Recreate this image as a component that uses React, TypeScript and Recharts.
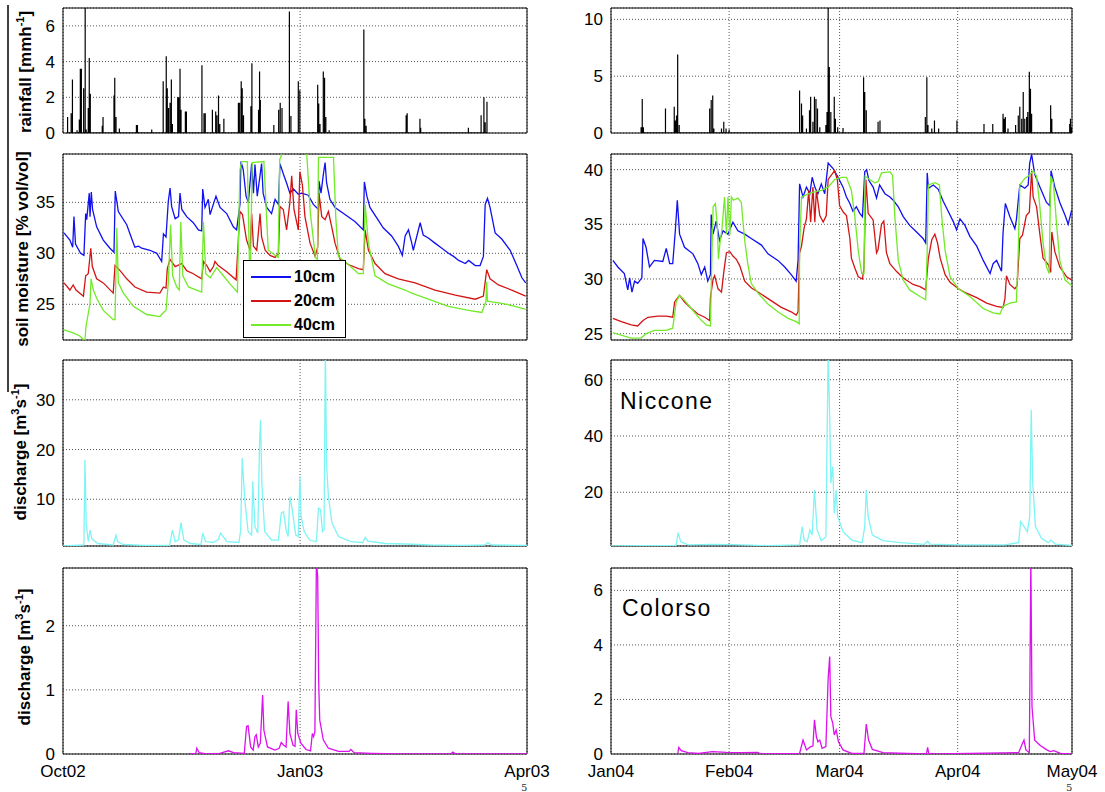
import React from "react";
import {
  CartesianGrid,
  Legend,
  Line,
  LineChart,
  ReferenceArea,
  XAxis,
  YAxis,
} from "recharts";

type Pt = [number, number];

// x is days since the start of each column (Oct02 left, Jan04 right)
const leftTicks = [0, 93, 182];
const leftTickLabels = ["Oct02", "Jan03", "Apr03"];
const rightTicks = [0, 31, 60, 91, 121];
const rightTickLabels = ["Jan04", "Feb04", "Mar04", "Apr04", "May04"];

const rainL: Pt[] = [
  [1.8, 0.9], [3.2, 1.1], [3.7, 3.0], [5.5, 0.15], [6.4, 0.75], [6.8, 3.6], [7.2, 3.6], [8.1, 2.5],
  [8.7, 7.5], [9.1, 0.2], [9.9, 1.4], [10.3, 4.2], [10.7, 2.2], [15.4, 0.4], [15.7, 0.9], [20.0, 2.1],
  [20.3, 3.1], [20.8, 0.9], [22.1, 0.25], [28.8, 0.45], [29.2, 0.45], [34.8, 0.2], [39.3, 2.9],
  [40.5, 4.3], [40.9, 2.5], [41.4, 1.4], [42.0, 1.7], [42.5, 3.0], [42.9, 0.5], [45.0, 2.0], [45.4, 2.0],
  [45.9, 3.6], [46.3, 1.3], [48.0, 1.2], [48.4, 1.2], [54.5, 3.8], [55.3, 1.1], [55.8, 1.1], [58.6, 1.3],
  [59.9, 1.2], [60.4, 1.0], [61.0, 2.1], [61.5, 0.5], [63.1, 0.8], [68.8, 1.7], [69.3, 1.7], [69.9, 2.9],
  [70.3, 2.5], [70.8, 1.0], [73.7, 1.5], [74.1, 3.9], [76.7, 1.3], [77.1, 3.45], [77.4, 1.85],
  [82.7, 0.45], [84.6, 1.3], [85.2, 1.7], [85.9, 1.4], [88.8, 6.8], [89.4, 0.95], [92.3, 2.9],
  [92.9, 2.4], [98.2, 0.05], [99.9, 2.7], [100.3, 1.65], [100.8, 0.5], [102.1, 3.45], [102.6, 3.1],
  [103.1, 0.9], [104.4, 0.15], [118.0, 5.8], [118.4, 0.8], [118.9, 0.4], [134.6, 1.0], [135.0, 1.1],
  [140.0, 0.8], [140.3, 0.3], [159.0, 0.3], [164.0, 1.0], [165.1, 2.0], [165.6, 0.6], [166.3, 1.75],
];

const rainR: Pt[] = [
  [7.9, 0.5], [8.2, 3.0], [8.5, 0.5], [14.3, 2.15], [16.6, 2.3], [16.9, 1.1], [17.2, 1.55], [17.5, 6.9],
  [17.9, 0.7], [25.9, 2.15], [26.3, 2.9], [26.7, 3.3], [27.0, 0.4], [29.0, 0.4], [29.6, 1.0], [30.2, 0.4],
  [31.0, 0.3], [49.5, 3.75], [50.0, 2.6], [50.3, 1.55], [51.3, 0.4], [52.1, 2.0], [52.4, 3.2], [53.0, 1.0],
  [53.4, 3.2], [53.8, 3.0], [54.2, 2.15], [54.8, 0.5], [56.4, 0.7], [56.7, 1.85], [57.0, 11.5],
  [57.3, 5.8], [57.7, 1.85], [58.6, 3.2], [58.9, 1.25], [59.5, 0.5], [60.9, 0.45], [66.3, 4.9],
  [66.6, 3.6], [67.0, 2.0], [70.1, 1.0], [70.6, 1.1], [82.5, 1.4], [82.9, 4.9], [83.2, 0.7], [84.2, 0.4],
  [84.9, 1.1], [86.0, 0.4], [90.8, 1.1], [97.9, 0.8], [100.2, 0.8], [102.9, 1.7], [103.2, 1.25],
  [103.5, 1.4], [104.2, 0.4], [106.2, 0.7], [106.9, 1.55], [107.3, 2.3], [107.8, 1.25], [108.2, 3.6],
  [108.6, 1.25], [109.1, 1.4], [109.4, 1.85], [109.8, 5.4], [110.1, 3.9], [110.4, 1.7], [115.4, 2.45],
  [115.7, 1.25], [120.4, 0.8], [120.6, 1.25], [120.9, 0.5],
];

const soilL10: Pt[] = [
  [0.4, 32.0], [2.7, 31.3], [3.8, 30.6], [4.3, 33.6], [4.9, 30.9], [6.9, 30.0], [8.2, 29.8], [8.9, 33.9],
  [9.3, 33.3], [10.3, 35.9], [10.6, 33.6], [11.1, 36.0], [11.6, 34.3], [13.2, 32.6], [15.8, 31.3],
  [18.4, 30.5], [20.0, 30.1], [20.5, 36.1], [21.7, 34.1], [25.0, 32.8], [27.0, 31.4], [28.2, 30.6],
  [29.6, 30.7], [30.9, 30.5], [34.1, 30.3], [36.8, 30.0], [38.7, 29.2], [39.4, 31.9], [40.4, 31.6],
  [41.3, 35.1], [42.0, 36.4], [42.6, 34.6], [44.0, 33.4], [45.3, 33.6], [45.9, 35.9], [46.6, 34.3],
  [48.5, 33.6], [51.1, 33.0], [53.1, 32.3], [54.4, 32.2], [54.8, 36.3], [55.7, 34.5], [57.0, 35.3],
  [57.7, 33.8], [59.2, 35.0], [60.0, 35.6], [61.6, 34.5], [64.2, 33.9], [66.8, 32.6], [68.1, 32.3],
  [69.4, 34.8], [69.8, 39.0], [70.7, 38.2], [71.8, 35.6], [72.7, 35.0], [74.0, 38.8], [74.7, 35.9],
  [75.3, 38.7], [76.2, 35.6], [77.9, 38.8], [78.5, 35.9], [79.9, 34.5], [81.8, 33.9], [83.2, 35.3],
  [84.5, 34.8], [85.1, 38.8], [86.4, 37.8], [87.7, 36.9], [89.0, 35.9], [90.4, 36.3], [92.3, 35.8],
  [93.6, 35.9], [96.2, 35.7], [98.2, 34.8], [100.2, 34.3], [100.4, 37.1], [101.2, 35.9], [102.1, 37.7],
  [102.8, 38.9], [103.4, 36.9], [104.7, 35.3], [106.7, 34.5], [110.6, 33.8], [114.6, 33.1],
  [117.8, 32.3], [118.2, 37.0], [119.2, 35.6], [120.4, 34.5], [123.0, 33.5], [125.6, 32.5],
  [128.9, 31.7], [131.5, 30.7], [133.1, 29.8], [134.2, 31.7], [135.5, 32.3], [136.8, 31.0],
  [137.4, 30.3], [138.8, 31.7], [140.1, 33.0], [141.3, 31.8], [143.3, 31.5], [145.9, 31.0],
  [148.6, 30.5], [151.2, 30.0], [153.2, 29.7], [155.2, 29.3], [157.8, 29.0], [159.1, 29.3],
  [161.7, 28.8], [163.6, 28.8], [164.9, 29.7], [165.6, 34.8], [166.5, 35.4], [167.5, 34.5],
  [169.5, 32.0], [172.1, 31.4], [175.4, 30.3], [178.0, 28.8], [180.0, 27.6], [181.5, 27.1],
];

const soilL20: Pt[] = [
  [0.4, 27.1], [2.7, 26.4], [4.0, 26.9], [5.1, 26.4], [8.0, 25.8], [8.9, 27.8], [9.9, 28.0], [10.9, 30.5],
  [11.5, 28.7], [13.2, 27.5], [15.8, 27.1], [19.7, 26.1], [20.4, 28.8], [22.4, 28.3], [25.0, 27.5],
  [28.2, 26.7], [32.8, 26.2], [38.0, 26.1], [39.4, 26.7], [40.4, 26.6], [40.9, 28.5], [42.0, 29.4],
  [44.0, 28.7], [46.6, 29.0], [48.5, 28.3], [51.1, 28.0], [54.4, 27.5], [55.1, 29.2], [56.4, 28.8],
  [57.7, 28.2], [59.0, 28.7], [59.6, 29.2], [60.9, 28.8], [64.2, 28.2], [67.9, 27.4], [69.4, 34.1],
  [70.4, 33.8], [72.0, 31.3], [73.4, 30.3], [74.0, 33.9], [74.7, 30.7], [76.0, 30.3], [77.3, 33.9],
  [77.9, 31.6], [79.3, 30.3], [81.2, 29.8], [83.2, 29.6], [84.5, 30.0], [85.1, 34.6], [86.4, 34.3],
  [87.7, 32.3], [89.0, 35.0], [89.7, 37.6], [90.6, 34.3], [92.3, 32.3], [92.9, 38.0], [93.9, 36.7],
  [94.9, 33.6], [96.9, 31.0], [98.9, 29.7], [99.9, 30.6], [100.4, 35.9], [101.5, 33.6], [102.8, 33.3],
  [104.1, 34.1], [105.4, 32.6], [106.7, 31.0], [108.7, 29.4], [111.9, 28.9], [115.9, 28.5],
  [117.8, 28.4], [118.5, 32.3], [119.8, 30.3], [122.4, 29.0], [126.3, 28.0], [131.5, 27.5],
  [138.1, 27.1], [145.9, 26.4], [153.9, 25.9], [161.7, 25.5], [164.9, 25.8], [166.2, 28.4],
  [167.5, 27.5], [170.8, 26.9], [176.0, 26.4], [181.5, 25.8],
];

const soilL40: Pt[] = [
  [0.4, 22.5], [4.0, 22.2], [6.6, 21.9], [8.6, 21.4], [9.0, 22.8], [10.6, 25.1], [11.0, 27.5], [11.9, 26.4],
  [13.2, 25.6], [15.8, 24.4], [19.7, 23.5], [20.4, 23.5], [21.1, 32.5], [21.7, 27.1], [23.7, 26.1],
  [27.6, 24.8], [32.8, 24.0], [38.0, 23.8], [39.4, 24.2], [40.4, 24.4], [41.3, 27.1], [42.2, 32.8],
  [43.0, 27.8], [44.6, 26.7], [45.6, 26.4], [46.2, 33.1], [47.0, 27.8], [49.2, 26.7], [52.4, 26.4],
  [54.4, 26.2], [55.1, 33.1], [56.0, 28.0], [57.7, 27.6], [60.3, 28.6], [62.9, 27.8], [65.5, 27.0],
  [68.4, 26.2], [69.4, 38.2], [70.1, 39.0], [72.3, 39.0], [73.1, 29.4], [73.6, 29.4], [74.2, 38.9],
  [78.8, 39.0], [80.5, 30.3], [84.4, 29.6], [85.0, 39.2], [86.0, 39.8], [95.6, 39.8], [97.0, 34.0],
  [99.0, 29.6], [99.8, 29.4], [100.2, 39.4], [106.1, 39.4], [107.0, 33.5], [108.0, 29.7], [111.9, 28.9],
  [115.9, 28.0], [117.8, 28.0], [118.5, 34.8], [119.8, 31.0], [122.4, 27.8], [127.6, 27.0],
  [134.2, 26.4], [136.8, 26.1], [143.3, 25.5], [151.2, 24.8], [159.1, 24.4], [164.3, 24.2],
  [165.9, 25.3], [166.2, 27.2], [166.5, 25.3], [172.1, 25.1], [177.3, 24.8], [181.5, 24.5],
];

const soilR10: Pt[] = [
  [0.5, 31.7], [1.8, 31.1], [3.5, 30.5], [4.4, 29.0], [4.9, 30.1], [5.5, 28.8], [6.2, 29.8], [7.0, 29.6],
  [8.1, 30.1], [8.4, 33.7], [9.2, 32.9], [10.1, 31.1], [11.4, 31.7], [13.6, 31.6], [14.5, 32.8],
  [15.4, 31.4], [16.2, 31.4], [16.9, 34.5], [17.4, 37.2], [18.0, 34.1], [19.3, 32.9], [21.5, 32.3],
  [22.8, 31.4], [23.7, 30.4], [24.6, 31.1], [25.4, 29.8], [26.1, 30.4], [26.3, 35.9], [26.8, 34.1],
  [27.6, 35.3], [28.5, 33.5], [29.4, 34.4], [30.7, 34.1], [32.0, 35.2], [33.3, 34.4], [35.1, 34.1],
  [36.8, 33.7], [39.5, 33.1], [41.2, 32.3], [43.8, 31.7], [45.6, 31.1], [47.3, 30.4], [48.6, 29.8],
  [49.1, 31.7], [49.5, 38.7], [50.4, 37.5], [51.3, 38.4], [52.2, 37.8], [52.8, 39.3], [53.5, 38.4],
  [54.3, 37.8], [55.2, 38.7], [56.1, 37.8], [57.0, 40.6], [58.3, 40.1], [59.6, 39.3], [60.9, 38.4],
  [61.8, 37.5], [62.7, 36.9], [63.5, 36.2], [64.4, 36.6], [65.3, 36.0], [66.0, 35.7], [66.6, 39.8],
  [67.1, 40.0], [67.7, 39.0], [68.8, 38.4], [69.7, 37.4], [70.5, 38.6], [71.9, 37.8], [73.2, 37.5],
  [74.1, 37.2], [75.4, 36.6], [76.7, 35.7], [78.4, 34.9], [80.2, 34.3], [81.9, 33.7], [82.6, 33.3],
  [83.0, 39.7], [83.3, 38.3], [84.6, 38.6], [85.9, 38.2], [87.2, 37.1], [88.5, 36.2], [89.9, 35.2],
  [90.7, 34.5], [91.6, 35.5], [92.9, 34.9], [94.2, 33.9], [96.0, 33.0], [97.7, 31.7], [99.5, 30.5],
  [100.3, 31.4], [101.2, 31.7], [102.5, 30.7], [102.9, 34.2], [103.5, 36.9], [104.7, 35.7],
  [106.0, 34.6], [106.4, 35.4], [107.3, 38.6], [108.6, 38.3], [109.5, 38.6], [109.9, 40.6],
  [110.4, 41.4], [111.2, 39.6], [112.6, 38.4], [114.3, 37.0], [115.2, 36.7], [115.5, 39.9],
  [116.5, 38.4], [117.8, 37.0], [119.2, 35.8], [120.0, 35.0], [120.9, 36.3],
];

const soilR20: Pt[] = [
  [0.5, 26.4], [2.7, 26.1], [5.3, 25.8], [7.0, 25.7], [8.4, 26.2], [9.7, 26.5], [12.3, 26.6], [14.5, 26.6],
  [16.2, 26.5], [16.7, 27.9], [18.0, 28.5], [19.3, 27.9], [21.1, 27.3], [22.8, 26.8], [24.6, 26.5],
  [25.9, 26.2], [26.1, 28.3], [26.8, 30.0], [27.2, 30.3], [28.1, 29.1], [29.0, 28.8], [29.7, 30.9],
  [30.3, 32.4], [31.2, 32.5], [32.0, 32.1], [32.9, 31.8], [33.8, 31.2], [35.1, 29.8], [36.8, 29.2],
  [39.5, 28.6], [42.1, 28.0], [44.7, 27.4], [47.3, 27.0], [48.6, 26.7], [49.1, 27.0], [49.5, 32.4],
  [50.0, 33.0], [50.7, 34.7], [51.3, 35.5], [51.9, 38.1], [52.4, 35.2], [53.0, 38.4], [53.5, 35.2],
  [53.9, 38.1], [54.8, 35.8], [55.7, 35.2], [56.5, 35.8], [57.0, 39.1], [58.7, 39.9], [59.4, 39.1],
  [60.0, 36.7], [61.0, 36.1], [61.8, 35.8], [62.7, 33.7], [63.1, 31.9], [64.0, 31.0], [64.9, 30.2],
  [66.0, 30.0], [66.4, 31.0], [66.9, 39.1], [67.5, 36.0], [68.8, 35.4], [69.7, 32.4], [70.1, 32.7],
  [71.0, 35.0], [71.6, 35.3], [72.3, 32.4], [73.2, 31.4], [74.9, 30.7], [76.7, 30.1], [77.5, 29.9],
  [79.3, 29.5], [81.1, 29.3], [82.6, 29.0], [83.3, 31.9], [84.2, 33.6], [85.0, 34.1], [85.7, 33.3],
  [86.4, 31.9], [87.7, 30.4], [89.0, 29.7], [91.2, 29.1], [93.3, 28.7], [96.0, 28.3], [98.6, 27.8],
  [101.2, 27.5], [102.9, 27.4], [103.4, 28.2], [103.8, 30.3], [104.7, 29.5], [106.0, 29.1],
  [106.6, 29.4], [107.3, 33.7], [108.0, 34.0], [109.0, 35.8], [109.8, 36.1], [110.4, 39.9],
  [110.8, 37.5], [111.7, 36.6], [112.6, 34.0], [113.4, 31.9], [114.8, 31.3], [115.4, 30.6],
  [115.7, 34.3], [116.5, 32.5], [117.8, 31.1], [119.6, 30.2], [120.9, 29.9],
];

const soilR40: Pt[] = [
  [0.5, 25.1], [2.2, 24.9], [5.3, 24.6], [7.9, 24.6], [9.2, 25.0], [11.4, 25.3], [14.5, 25.3], [16.2, 25.5],
  [17.1, 27.9], [18.0, 28.5], [18.9, 28.2], [21.1, 27.3], [23.2, 26.4], [25.0, 25.8], [26.1, 25.7],
  [26.5, 32.4], [26.8, 36.6], [27.4, 36.9], [27.9, 34.8], [28.2, 31.8], [28.6, 33.3], [29.1, 34.5],
  [29.8, 37.5], [30.3, 34.1], [30.7, 37.5], [31.2, 34.0], [31.6, 37.5], [32.1, 37.2], [33.3, 37.4],
  [34.2, 37.0], [35.1, 33.5], [35.9, 31.4], [36.8, 29.6], [38.6, 28.7], [41.2, 27.7], [43.8, 27.0],
  [46.5, 26.4], [48.6, 26.1], [49.4, 25.9], [49.5, 32.6], [50.0, 37.5], [52.6, 37.9], [55.2, 38.1],
  [57.0, 38.4], [58.7, 39.1], [60.5, 39.3], [61.8, 39.3], [63.1, 38.1], [64.0, 35.7], [64.9, 32.6],
  [65.8, 30.5], [66.4, 30.5], [66.7, 39.4], [67.9, 39.1], [69.2, 38.8], [70.1, 38.9], [71.0, 39.7],
  [73.2, 39.8], [73.9, 39.5], [74.5, 35.7], [75.4, 31.7], [76.7, 29.9], [78.4, 29.0], [81.1, 28.4],
  [82.6, 28.1], [83.0, 32.6], [83.3, 38.6], [85.0, 38.8], [86.2, 38.6], [86.8, 35.7], [87.7, 32.6],
  [89.0, 30.2], [91.2, 29.1], [94.2, 28.4], [97.7, 27.3], [100.3, 26.9], [102.1, 26.8], [102.9, 27.5],
  [104.7, 27.8], [106.4, 27.9], [106.9, 32.6], [107.3, 38.6], [108.6, 39.2], [109.9, 39.5],
  [110.8, 39.9], [111.7, 39.4], [112.4, 37.2], [113.4, 33.3], [114.3, 31.1], [115.0, 30.5],
  [115.4, 39.4], [116.1, 38.8], [117.0, 34.8], [117.8, 31.7], [119.2, 29.9], [120.9, 29.4],
];

const niccL: Pt[] = [
  [0, 0.6], [8.2, 0.8], [8.6, 17.9], [9.1, 5.2], [9.9, 1.5], [10.6, 3.8], [11.3, 2.1], [13.6, 1.1],
  [19.7, 0.8], [20.8, 2.8], [21.4, 1.5], [23.7, 0.9], [31.8, 0.7], [41.8, 0.7], [42.9, 3.8], [44.0, 1.5],
  [45.3, 1.8], [46.3, 5.3], [47.4, 1.8], [50.0, 1.1], [54.1, 0.9], [54.8, 3.2], [55.9, 1.5], [58.8, 1.3],
  [60.9, 1.9], [61.8, 3.2], [64.3, 1.5], [69.0, 1.3], [69.7, 3.8], [70.3, 18.3], [71.3, 9.9], [72.6, 3.5],
  [74.0, 2.8], [74.4, 13.6], [75.3, 4.5], [76.4, 3.2], [77.1, 21.3], [77.5, 26.0], [78.0, 13.2],
  [79.1, 3.5], [81.8, 1.8], [84.5, 1.8], [85.6, 7.2], [86.5, 7.5], [87.5, 3.8], [88.3, 2.5], [89.0, 10.5],
  [89.9, 7.9], [91.3, 2.8], [92.3, 2.5], [92.9, 14.6], [93.4, 6.5], [94.6, 3.5], [96.7, 1.8], [99.4, 1.5],
  [100.2, 8.2], [101.0, 7.9], [101.8, 3.5], [102.4, 3.8], [102.9, 40], [103.4, 16.9], [104.1, 10.5],
  [105.5, 5.2], [108.1, 2.5], [112.9, 1.5], [117.6, 1.3], [118.5, 2.3], [119.6, 1.6], [126.4, 1.1],
  [134.5, 1.0], [143.9, 0.8], [157.3, 0.7], [165.4, 0.8], [166.6, 1.3], [168.2, 0.8], [182, 0.7],
];

const niccR: Pt[] = [
  [0, 0.9], [17.1, 1.1], [17.6, 5.6], [18.3, 2.4], [20.3, 1.3], [26.7, 1.5], [32.1, 1.4], [41.3, 1.0],
  [49.5, 1.3], [50.2, 7.8], [50.7, 3.0], [51.5, 2.4], [52.2, 6.6], [52.8, 4.8], [53.4, 20.8], [54.1, 6.6],
  [55.2, 2.8], [56.4, 4.2], [57.0, 70], [57.4, 46.9], [57.7, 23.2], [58.2, 29.1], [58.6, 12.5],
  [59.1, 20.8], [59.5, 11.3], [60.9, 6.0], [63.2, 3.0], [65.9, 2.1], [66.6, 7.8], [67.0, 20.8],
  [67.5, 11.3], [68.6, 4.8], [71.4, 2.8], [75.9, 2.1], [82.3, 1.5], [83.1, 2.6], [83.7, 1.6], [91.5, 1.3],
  [103.3, 1.3], [107.0, 2.1], [107.5, 9.6], [108.4, 7.8], [109.3, 6.0], [109.9, 11.3], [110.3, 49.3],
  [110.7, 23.2], [111.4, 7.8], [113.0, 3.6], [114.8, 2.1], [115.5, 3.0], [116.6, 1.6], [121, 1.1],
];

const colL: Pt[] = [
  [49.7, 0], [52.1, 0.01], [52.5, 0.09], [53.4, 0.02], [56.1, 0], [61.5, 0.01], [64.9, 0.05], [66.9, 0.02],
  [71.1, 0.01], [72.0, 0.43], [72.6, 0.44], [73.6, 0.11], [74.6, 0.06], [75.3, 0.27], [75.8, 0.3],
  [76.6, 0.11], [77.4, 0.17], [78.3, 0.92], [78.8, 0.37], [80.2, 0.11], [83.1, 0.06], [84.8, 0.09],
  [85.6, 0.18], [86.5, 0.14], [87.5, 0.11], [88.3, 0.82], [89.0, 0.32], [90.2, 0.14], [91.0, 0.12],
  [91.5, 0.69], [92.1, 0.32], [93.3, 0.17], [95.3, 0.07], [97.1, 0.05], [97.8, 0.32], [98.3, 0.27],
  [98.8, 0.35], [99.4, 3.0], [99.9, 2.77], [100.3, 1.1], [100.7, 0.53], [102.1, 0.22], [104.1, 0.09],
  [108.1, 0.04], [112.2, 0.04], [112.9, 0.07], [114.2, 0.02], [121.0, 0.01], [131.8, 0], [152.1, 0],
  [152.9, 0.03], [154.1, 0], [182, 0],
];

const colR: Pt[] = [
  [17.5, 0], [17.8, 0.24], [18.4, 0.12], [20.2, 0.05], [23.0, 0.02], [26.6, 0.09], [30.3, 0.06],
  [33.9, 0.05], [38.5, 0.06], [39.4, 0], [49.5, 0.02], [50.4, 0.51], [51.3, 0.15], [52.4, 0.27],
  [53.0, 0.29], [53.4, 1.25], [53.9, 0.64], [54.3, 0.45], [54.8, 0.51], [55.4, 0.21], [56.4, 0.27],
  [57.0, 2.78], [57.4, 3.57], [57.7, 1.37], [58.2, 1.13], [58.6, 0.7], [59.1, 0.88], [59.7, 0.45],
  [60.9, 0.15], [63.2, 0.02], [66.4, 0.02], [67.0, 1.1], [67.6, 0.51], [68.6, 0.17], [71.4, 0.05],
  [77.8, 0.02], [82.8, 0], [83.1, 0.24], [83.4, 0.02], [85.5, 0], [107.0, 0.05], [108.0, 0.39],
  [108.4, 0.51], [108.9, 0.15], [109.8, 0.05], [110.2, 7.2], [110.5, 1.74], [111.2, 0.51],
  [112.5, 0.33], [114.4, 0.15], [115.3, 0.09], [116.2, 0.12], [118.0, 0.02], [121, 0],
];

const BLUE = "#1010f0";
const RED = "#d41414";
const GREEN = "#72ea28";
const CYAN = "#7ff4f4";
const MAGENTA = "#dd10ee";
const FONT = "Arial, 'Liberation Sans', Helvetica, sans-serif";

const rows = (pts: Pt[]) => pts.map(([d, v]) => ({ d, v }));
const spikes = (pts: Pt[]) => pts.flatMap(([d, v]) => [{ d, v: 0 }, { d, v }, { d, v: 0 }]);

const ML = 56;
const MT = 10;
const MR = 34;
const MB = 12;

const XL = 63;
const WL = 464;
const XR = 611;
const WR = 461;

type Series = { name: string; data: { d: number; v: number }[]; color: string; width?: number };

function Panel(props: {
  x: number;
  y: number;
  w: number;
  h: number;
  xMax: number;
  xTicks: number[];
  xLabels: string[];
  showX?: boolean;
  yDomain: [number, number];
  yTicks: number[];
  series: Series[];
  legend?: React.ReactNode;
}) {
  const { x, y, w, h, xMax, xTicks, xLabels, showX, yDomain, yTicks, series, legend } = props;
  // upper panels keep a 1px x axis with blank labels so the vertical grid still follows the ticks
  const xh = showX ? 34 : 1;
  const mb = showX ? 0 : MB;
  return (
    <div style={{ position: "absolute", left: x - ML, top: y - MT }}>
      <LineChart
        width={w + ML + MR}
        height={h + MT + xh + mb}
        margin={{ top: MT, right: MR, bottom: mb, left: 0 }}
      >
        <CartesianGrid stroke="#555" strokeDasharray="1 2" />
        <XAxis
          type="number"
          dataKey="d"
          domain={[0, xMax]}
          ticks={xTicks}
          interval={0}
          allowDataOverflow
          height={xh}
          axisLine={false}
          tickLine={false}
          tick={{ fontSize: showX ? 17 : 1, fill: showX ? "#000" : "none", fontFamily: FONT }}
          tickMargin={5}
          tickFormatter={(v: number) => (showX ? xLabels[xTicks.indexOf(v)] ?? "" : "")}
        />
        <YAxis
          type="number"
          domain={yDomain}
          ticks={yTicks}
          interval={0}
          allowDataOverflow
          width={ML}
          axisLine={false}
          tickLine={false}
          tick={{ fontSize: 17, fill: "#000", fontFamily: FONT }}
        />
        {series.map((s) => (
          <Line
            key={s.name}
            name={s.name}
            data={s.data}
            dataKey="v"
            type="linear"
            stroke={s.color}
            strokeWidth={s.width ?? 1.3}
            dot={false}
            activeDot={false}
            isAnimationActive={false}
          />
        ))}
        <ReferenceArea
          x1={0}
          x2={xMax}
          y1={yDomain[0]}
          y2={yDomain[1]}
          stroke="#000"
          strokeWidth={1}
          fill="none"
          fillOpacity={0}
        />
        {legend}
      </LineChart>
    </div>
  );
}

function DepthKey({ payload }: { payload?: { value: string; color?: string }[] }) {
  return (
    <div
      style={{
        width: 103,
        height: 78,
        boxSizing: "border-box",
        border: "1px solid #000",
        background: "#fff",
        paddingTop: 4,
        fontFamily: FONT,
      }}
    >
      {(payload ?? []).map((p) => (
        <div key={p.value} style={{ display: "flex", alignItems: "center", height: 24 }}>
          <svg width={50} height={24}>
            <line x1={7} x2={47} y1={12} y2={12} stroke={p.color} strokeWidth={2} />
          </svg>
          <span style={{ fontWeight: 700, fontSize: 16, color: "#000" }}>{p.value}</span>
        </div>
      ))}
    </div>
  );
}

function AxisTitle({ x, y, children }: { x: number; y: number; children: React.ReactNode }) {
  return (
    <text
      transform={`translate(${x},${y}) rotate(-90)`}
      textAnchor="middle"
      fontSize={17}
      fontWeight={700}
      fontFamily={FONT}
      fill="#000"
    >
      {children}
    </text>
  );
}

export default function App() {
  const soilTop = 154;
  return (
    <div
      style={{
        position: "absolute",
        left: 0,
        top: 0,
        width: 1105,
        height: 792,
        background: "#fff",
        fontFamily: FONT,
        overflow: "hidden",
      }}
    >
      {/* rainfall */}
      <Panel x={XL} y={8} w={WL} h={125} xMax={182} xTicks={leftTicks} xLabels={leftTickLabels}
        yDomain={[0, 7]} yTicks={[0, 2, 4, 6]}
        series={[{ name: "rain", data: spikes(rainL), color: "#000", width: 1.2 }]} />
      <Panel x={XR} y={8} w={WR} h={125} xMax={121} xTicks={rightTicks} xLabels={rightTickLabels}
        yDomain={[0, 11]} yTicks={[0, 5, 10]}
        series={[{ name: "rain", data: spikes(rainR), color: "#000", width: 1.2 }]} />

      {/* soil moisture */}
      <Panel x={XL} y={soilTop} w={WL} h={186} xMax={182} xTicks={leftTicks} xLabels={leftTickLabels}
        yDomain={[21.5, 39.74]} yTicks={[25, 30, 35]}
        series={[
          { name: "10cm", data: rows(soilL10), color: BLUE },
          { name: "20cm", data: rows(soilL20), color: RED },
          { name: "40cm", data: rows(soilL40), color: GREEN },
        ]}
        legend={
          <Legend
            layout="vertical"
            align="center"
            verticalAlign="middle"
            wrapperStyle={{ left: 243 - (XL - ML), top: 260 - (soilTop - MT), width: 103, height: 78 }}
            content={(p: any) => <DepthKey payload={p.payload} />}
          />
        } />
      <Panel x={XR} y={soilTop} w={WR} h={186} xMax={121} xTicks={rightTicks} xLabels={rightTickLabels}
        yDomain={[24.42, 41.43]} yTicks={[25, 30, 35, 40]}
        series={[
          { name: "10cm", data: rows(soilR10), color: BLUE },
          { name: "20cm", data: rows(soilR20), color: RED },
          { name: "40cm", data: rows(soilR40), color: GREEN },
        ]} />

      {/* discharge Niccone */}
      <Panel x={XL} y={360} w={WL} h={186} xMax={182} xTicks={leftTicks} xLabels={leftTickLabels}
        yDomain={[0.6, 38]} yTicks={[10, 20, 30]}
        series={[{ name: "Niccone", data: rows(niccL), color: CYAN }]} />
      <Panel x={XR} y={360} w={WR} h={186} xMax={121} xTicks={rightTicks} xLabels={rightTickLabels}
        yDomain={[0.9, 67]} yTicks={[20, 40, 60]}
        series={[{ name: "Niccone", data: rows(niccR), color: CYAN }]} />

      {/* discharge Colorso */}
      <Panel x={XL} y={568} w={WL} h={186} xMax={182} xTicks={leftTicks} xLabels={leftTickLabels} showX
        yDomain={[0, 2.9]} yTicks={[0, 1, 2]}
        series={[{ name: "Colorso", data: rows(colL), color: MAGENTA }]} />
      <Panel x={XR} y={568} w={WR} h={186} xMax={121} xTicks={rightTicks} xLabels={rightTickLabels} showX
        yDomain={[0, 6.82]} yTicks={[0, 2, 4, 6]}
        series={[{ name: "Colorso", data: rows(colR), color: MAGENTA }]} />

      <svg
        width={1105}
        height={792}
        style={{ position: "absolute", left: 0, top: 0, pointerEvents: "none" }}
      >
        <line x1={8} x2={8} y1={5} y2={392} stroke="#000" strokeWidth={1.5} />
        <AxisTitle x={31} y={72}>
          rainfall [mmh<tspan dy={-7} fontSize={11}>-1</tspan><tspan dy={7}>]</tspan>
        </AxisTitle>
        <AxisTitle x={28} y={249}>soil moisture [% vol/vol]</AxisTitle>
        <AxisTitle x={26} y={452}>
          discharge [m<tspan dy={-7} fontSize={11}>3</tspan><tspan dy={7}>s</tspan>
          <tspan dy={-7} fontSize={11}>-1</tspan><tspan dy={7}>]</tspan>
        </AxisTitle>
        <AxisTitle x={30} y={657}>
          discharge [m<tspan dy={-7} fontSize={11}>3</tspan><tspan dy={7}>s</tspan>
          <tspan dy={-7} fontSize={11}>-1</tspan><tspan dy={7}>]</tspan>
        </AxisTitle>
        <text x={620} y={409} fontSize={23} letterSpacing={1.5} fontFamily={FONT} fill="#000">Niccone</text>
        <text x={622} y={616} fontSize={23} letterSpacing={1.5} fontFamily={FONT} fill="#000">Colorso</text>
        <text x={521} y={791} fontSize={10} fontFamily="'DejaVu Serif', serif" fill="#333">5</text>
        <text x={1066} y={791} fontSize={10} fontFamily="'DejaVu Serif', serif" fill="#333">5</text>
      </svg>
    </div>
  );
}
